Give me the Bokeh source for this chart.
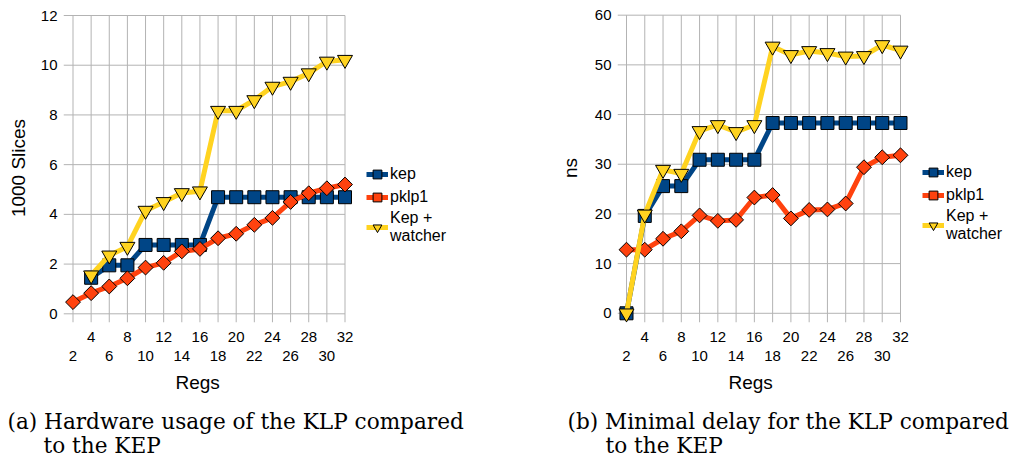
import numpy as np
from bokeh.plotting import figure
from bokeh.models import Range1d, LinearAxis, FixedTicker, Legend, LegendItem, Title
from bokeh.layouts import row
from bokeh.embed import file_html
from bokeh.resources import INLINE

# ---------------- data ----------------
regs = [2, 4, 6, 8, 10, 12, 14, 16, 18, 20, 22, 24, 26, 28, 30, 32]
ticks_top_row = [4, 8, 12, 16, 20, 24, 28, 32]
ticks_bottom_row = [2, 6, 10, 14, 18, 22, 26, 30]
series_names = ["kep", "pklp1", "Kep +\u00a0\u00a0\u00a0\nwatcher"]
x_title = "Regs"

# (a) hardware usage, 1000 slices
kep_slices = [np.nan, 1.45, 1.95, 1.95, 2.77, 2.77, 2.77, 2.77,
              4.69, 4.69, 4.69, 4.69, 4.69, 4.69, 4.69, 4.69]
pklp1_slices = [0.47, 0.83, 1.10, 1.43, 1.86, 2.05, 2.51, 2.61,
                3.04, 3.22, 3.58, 3.86, 4.50, 4.85, 5.05, 5.20]
watcher_slices = [np.nan, 1.55, 2.35, 2.70, 4.15, 4.50, 4.86, 4.93,
                  8.17, 8.17, 8.60, 9.14, 9.34, 9.68, 10.15, 10.22]
slices_ticks = [0, 2, 4, 6, 8, 10, 12]

# (b) minimal delay, ns
kep_ns = [0.0, 19.6, 25.6, 25.6, 30.9, 30.9, 30.9, 30.9,
          38.3, 38.3, 38.3, 38.3, 38.3, 38.3, 38.3, 38.3]
pklp1_ns = [12.8, 12.8, 15.0, 16.5, 19.7, 18.6, 18.8, 23.3,
            23.8, 19.1, 20.8, 20.9, 22.1, 29.4, 31.4, 31.8]
watcher_ns = [0.0, 19.9, 28.9, 28.1, 36.7, 37.9, 36.5, 37.9,
              53.7, 52.0, 52.8, 52.4, 51.7, 51.8, 54.0, 52.9]
ns_ticks = [0, 10, 20, 30, 40, 50, 60]

captions_a = ["(a) Hardware usage of the KLP compared", "to the KEP"]
captions_b = ["(b) Minimal delay for the KLP compared", "to the KEP"]

# ---------------- style ----------------
BLUE = "#004586"
ORANGE = "#ff420e"
YELLOW = "#ffd320"
GRID = "#b3b3b3"
SANS = "Liberation Sans"
SERIF = "DejaVu Serif"


def make_chart(width, frame, data_px, yticks, ylabel, ys, cap, cap_x, xt_x, leg_vx, leg_vy,
               ylab_standoff):
    fl, ft, fb = frame
    fr = width
    dx0, dx1, dy0, dy1 = data_px   # px of regs[0], regs[-1], yticks[0], yticks[-1]
    height = 462
    xmin, xmax = regs[0], regs[-1]
    ymin, ymax = yticks[0], yticks[-1]
    kx = (dx1 - dx0) / (xmax - xmin)
    ky = (dy0 - dy1) / (ymax - ymin)
    xr = Range1d(xmin - (dx0 - fl) / kx, xmax + (fr - dx1) / kx)
    yr = Range1d(ymin - (fb - dy0) / ky, ymax + (dy1 - ft) / ky)

    p = figure(width=width, height=height, x_range=xr, y_range=yr,
               x_axis_type=None, y_axis_type=None, toolbar_location=None,
               output_backend="svg", min_border_left=fl, min_border_right=0,
               min_border_top=ft, min_border_bottom=height - fb)
    p.outline_line_color = None
    p.background_fill_color = "white"
    p.border_fill_color = "white"

    # grid lines (extending into padding act as tick marks / axis lines)
    p.segment(x0=[xr.start] * len(yticks), y0=yticks, x1=[xmax] * len(yticks), y1=yticks,
              line_color=GRID, line_width=1)
    p.segment(x0=regs, y0=[yr.start] * len(regs), x1=regs, y1=[ymax] * len(regs),
              line_color=GRID, line_width=1)

    # y axis
    yax = LinearAxis(ticker=FixedTicker(ticks=yticks), axis_label=ylabel)
    yax.axis_line_color = None
    yax.major_tick_out = 0
    yax.major_tick_in = 0
    yax.minor_tick_out = 0
    yax.minor_tick_in = 0
    yax.major_label_standoff = 6
    yax.major_label_text_font = SANS
    yax.major_label_text_font_size = "15px"
    yax.major_label_text_color = "#000000"
    yax.axis_label_text_font = SANS
    yax.axis_label_text_font_size = "19px"
    yax.axis_label_text_font_style = "normal"
    yax.axis_label_text_color = "#000000"
    yax.axis_label_standoff = ylab_standoff
    p.add_layout(yax, "left")

    # x axes: two staggered label rows
    xa1 = LinearAxis(ticker=FixedTicker(ticks=ticks_top_row))
    xa2 = LinearAxis(ticker=FixedTicker(ticks=ticks_bottom_row))
    for ax, so in ((xa1, 9), (xa2, 6)):
        ax.axis_line_color = None
        ax.major_tick_out = 0
        ax.major_tick_in = 0
        ax.minor_tick_out = 0
        ax.minor_tick_in = 0
        ax.major_label_standoff = so
        ax.major_label_text_font = SANS
        ax.major_label_text_font_size = "15px"
        ax.major_label_text_color = "#000000"
    p.add_layout(xa1, "below")
    p.add_layout(xa2, "below")

    # x axis title and captions (stacked below the axes)
    tx = Title(text=x_title, align="left", offset=xt_x - fl, standoff=13,
               text_font=SANS, text_font_size="19px", text_font_style="normal",
               text_color="#000000")
    t1 = Title(text=cap[0], align="left", offset=cap_x[0] - fl, standoff=14,
               text_font=SERIF, text_font_size="21.6px", text_font_style="normal",
               text_color="#000000")
    t2 = Title(text=cap[1], align="left", offset=cap_x[1] - fl, standoff=-20,
               text_font=SERIF, text_font_size="21.6px", text_font_style="normal",
               text_color="#000000")
    p.add_layout(tx, "below")
    p.add_layout(t1, "below")
    p.add_layout(t2, "below")

    # series
    colors = [BLUE, ORANGE, YELLOW]
    items = []
    for k, (vals, col, name) in enumerate(zip(ys, colors, series_names)):
        ln = p.line(regs, vals, line_color=col, line_width=5, line_join="round")
        if k == 0:
            sc = p.scatter(regs, vals, marker="square", size=13, fill_color=col,
                           line_color="#000000", line_width=1)
        elif k == 1:
            sc = p.scatter(regs, vals, marker="square", size=10.5, angle=np.pi / 4,
                           fill_color=col, line_color="#000000", line_width=1)
        else:
            sc = p.scatter(regs, vals, marker="inverted_triangle", size=15, fill_color=col,
                           line_color="#000000", line_width=1)
        items.append(LegendItem(label=name, renderers=[ln, sc]))

    leg = Legend(items=items, location=(leg_vx, leg_vy))
    leg.background_fill_alpha = 0
    leg.border_line_alpha = 0
    leg.padding = 0
    leg.margin = 0
    leg.spacing = 1
    leg.glyph_width = 22
    leg.glyph_height = 22
    leg.label_height = 22
    leg.label_standoff = 2
    leg.label_text_font = SANS
    leg.label_text_font_size = "16px"
    leg.label_text_color = "#000000"
    leg.label_text_align = "left"
    leg.label_text_line_height = 1.2
    p.add_layout(leg, "center")
    return p


p1 = make_chart(540, (63, 13, 322), (72.5, 344.5, 313.3, 15.0), slices_ticks,
                "1000 Slices", [kep_slices, pklp1_slices, watcher_slices],
                captions_a, (7, 43), 175, 303, 77, 9)
p2 = make_chart(471, (77, 10, 322), (86.0, 360.0, 312.7, 11.7), ns_ticks,
                "ns", [kep_ns, pklp1_ns, watcher_ns],
                captions_b, (27, 65), 188, 305, 79, 11)

layout = row(p1, p2)
open("out.html", "w").write(file_html(layout, INLINE))
